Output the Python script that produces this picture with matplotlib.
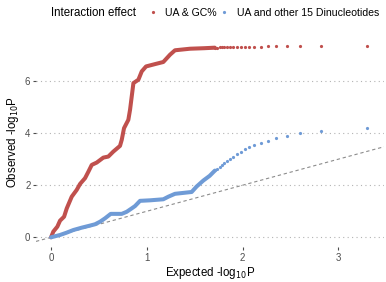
import matplotlib
matplotlib.use('Agg')
import matplotlib.pyplot as plt
from matplotlib.lines import Line2D

plt.rcParams['font.family'] = ['Liberation Sans', 'DejaVu Sans']

# curve body (dense points, drawn as a thick line)
red_exp = [0, 0.024, 0.066, 0.094, 0.136, 0.164, 0.216, 0.268, 0.303, 0.355, 0.390,
           0.425, 0.477, 0.546, 0.598, 0.650, 0.720, 0.738, 0.762, 0.807, 0.825,
           0.860, 0.912, 0.947, 0.992, 1.086, 1.172, 1.242, 1.294, 1.451, 1.60, 1.71]
red_obs = [0, 0.22, 0.41, 0.64, 0.79, 1.11, 1.56, 1.82, 2.05, 2.27, 2.52,
           2.78, 2.87, 3.06, 3.10, 3.29, 3.51, 3.74, 4.19, 4.51, 4.90,
           5.92, 6.05, 6.37, 6.56, 6.65, 6.73, 7.01, 7.18, 7.24, 7.26, 7.28]

blue_exp = [0, 0.094, 0.164, 0.233, 0.320, 0.407, 0.459, 0.512, 0.564, 0.623, 0.738,
            0.790, 0.842, 0.877, 0.929, 1.033, 1.172, 1.225, 1.294, 1.468, 1.520,
            1.590, 1.656, 1.71]
blue_obs = [0, 0.09, 0.18, 0.28, 0.37, 0.45, 0.50, 0.60, 0.73, 0.90, 0.90,
            0.98, 1.11, 1.20, 1.40, 1.42, 1.46, 1.56, 1.67, 1.74, 1.95,
            2.18, 2.36, 2.56]

# sparse upper tail (individual points)
tail_exp = [3.30, 2.82, 2.60, 2.46, 2.35, 2.26, 2.19, 2.12, 2.07, 2.02,
            1.98, 1.94, 1.90, 1.87, 1.84, 1.81, 1.78, 1.76, 1.73, 1.71]
red_tail = [7.34, 7.34, 7.33, 7.33, 7.33, 7.33, 7.32, 7.32, 7.32, 7.31,
            7.31, 7.31, 7.30, 7.30, 7.30, 7.29, 7.29, 7.29, 7.28, 7.28]
blue_tail = [4.18, 4.09, 4.00, 3.90, 3.80, 3.71, 3.62, 3.53, 3.45, 3.38,
             3.29, 3.20, 3.10, 3.01, 2.93, 2.85, 2.76, 2.70, 2.63, 2.57]

labels = ['UA & GC%', 'UA and other 15 Dinucleotides']
red = '#c0504d'
blue = '#6f9bd6'
grey = '#4d4d4d'

fig = plt.figure(figsize=(3.86, 2.82), dpi=100)
ax = fig.add_axes([36 / 386, 1 - 247 / 282, 348 / 386, 210 / 282])

ax.axline((0, 0), slope=1, color='#8c8c8c', lw=0.8, ls=(0, (3, 2.5)), zorder=1)

ax.plot(red_exp, red_obs, color=red, lw=2.9, solid_capstyle='round', zorder=2)
ax.plot(tail_exp, red_tail, 'o', color=red, ms=2.3, mew=0, zorder=2)
ax.plot(blue_exp, blue_obs, color=blue, lw=2.9, solid_capstyle='round', zorder=3)
ax.plot(tail_exp, blue_tail, 'o', color=blue, ms=2.3, mew=0, zorder=3)

ax.set_xlim(-0.157, 3.476)
ax.set_ylim(-0.372, 7.69)
ax.set_xticks([0, 1, 2, 3])
ax.set_yticks([0, 2, 4, 6])
ax.yaxis.grid(True, color='#b3b3b3', lw=0.8, ls=(0, (1, 3)))
ax.set_axisbelow(True)
for s in ax.spines.values():
    s.set_visible(False)
ax.tick_params(length=2.5, width=0.8, color=grey, labelcolor=grey, labelsize=7, pad=1.5)

ax.set_xlabel('Expected -log$_{10}$P', fontsize=8.3, labelpad=2)
ax.set_ylabel('Observed -log$_{10}$P', fontsize=8.3, labelpad=3)

fig.text(51 / 386, 1 - 13 / 282, 'Interaction effect', fontsize=8.3, va='center', ha='left')
handles = [Line2D([], [], ls='', marker='o', color=red, ms=2.3, mew=0),
           Line2D([], [], ls='', marker='o', color=blue, ms=2.3, mew=0)]
fig.legend(handles, labels, loc='center left', bbox_to_anchor=(149 / 386, 1 - 13 / 282),
           ncol=2, frameon=False, fontsize=7.6, handlelength=0.8, handletextpad=0.75,
           columnspacing=0.3, borderpad=0, borderaxespad=0)

fig.savefig('out.png', dpi=100)
